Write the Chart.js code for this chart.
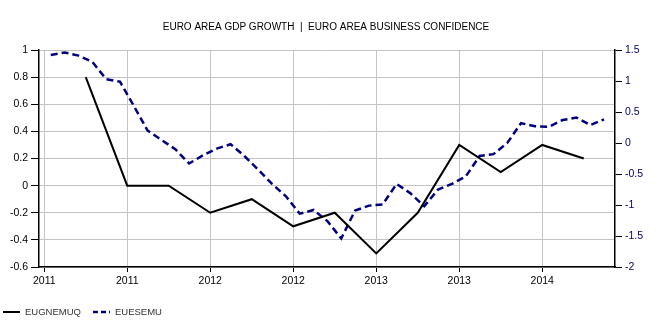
<!DOCTYPE html>
<html>
<head>
<meta charset="utf-8">
<script src="https://cdn.jsdelivr.net/npm/chart.js@4"></script>
<style>
  html, body { margin: 0; padding: 0; background: #ffffff; }
  #wrap { width: 656px; height: 329px; position: relative; }
</style>
</head>
<body>
<div id="wrap"><canvas id="c" width="656" height="329"></canvas></div>
<script>
// ---- data ----
const chartTitle = 'EURO AREA GDP GROWTH  |  EURO AREA BUSINESS CONFIDENCE';

const gdpName = 'EUGNEMUQ';
const gdpQuarters = ['Q1 2011','Q2 2011','Q3 2011','Q4 2011','Q1 2012','Q2 2012','Q3 2012',
                     'Q4 2012','Q1 2013','Q2 2013','Q3 2013','Q4 2013','Q1 2014'];
const gdpValues = [0.8, 0, 0, -0.2, -0.1, -0.3, -0.2, -0.5, -0.2, 0.3, 0.1, 0.3, 0.2];

const confName = 'EUESEMU';
const confMonths = ['Jan 2011','Feb 2011','Mar 2011','Apr 2011','May 2011','Jun 2011','Jul 2011','Aug 2011',
                    'Sep 2011','Oct 2011','Nov 2011','Dec 2011','Jan 2012','Feb 2012','Mar 2012','Apr 2012',
                    'May 2012','Jun 2012','Jul 2012','Aug 2012','Sep 2012','Oct 2012','Nov 2012','Dec 2012',
                    'Jan 2013','Feb 2013','Mar 2013','Apr 2013','May 2013','Jun 2013','Jul 2013','Aug 2013',
                    'Sep 2013','Oct 2013','Nov 2013','Dec 2013','Jan 2014','Feb 2014','Mar 2014','Apr 2014',
                    'May 2014'];
const confValues = [1.42, 1.46, 1.41, 1.31, 1.03, 0.99, 0.60, 0.20, 0.05, -0.10,
                    -0.33, -0.20, -0.09, -0.02, -0.21, -0.43, -0.66, -0.86, -1.14, -1.08,
                    -1.26, -1.54, -1.09, -1.01, -0.99, -0.66, -0.81, -1.02, -0.75, -0.66,
                    -0.54, -0.21, -0.18, 0.00, 0.32, 0.27, 0.26, 0.37, 0.41, 0.29,
                    0.38];

// x ticks: start of Jan / Jul of each year
const xTickDates = ['Jan 2011','Jul 2011','Jan 2012','Jul 2012','Jan 2013','Jul 2013','Jan 2014'];
const xTickLabels = ['2011','2011','2012','2012','2013','2013','2014'];
const leftTicks = [-0.6, -0.4, -0.2, 0, 0.2, 0.4, 0.6, 0.8, 1];
const rightTicks = [-2, -1.5, -1, -0.5, 0, 0.5, 1, 1.5];

// ---- time helpers (months since Jan 2011) ----
const MONTHS = ['Jan','Feb','Mar','Apr','May','Jun','Jul','Aug','Sep','Oct','Nov','Dec'];
function monthStart(s) { const [m, y] = s.split(' '); return (parseInt(y) - 2011) * 12 + MONTHS.indexOf(m); }
function midMonth(s) { return monthStart(s) + 0.47; }
function quarterEnd(s) { const [q, y] = s.split(' '); return (parseInt(y) - 2011) * 12 + parseInt(q.slice(1)) * 3; }

const gdpPoints = gdpQuarters.map((q, i) => ({ x: quarterEnd(q), y: gdpValues[i] }));
const confPoints = confMonths.map((m, i) => ({ x: midMonth(m), y: confValues[i] }));
const xTickPos = xTickDates.map(monthStart);

const FONT = 'Liberation Sans';
const gridCol = '#c4c4c4';

const overlay = {
  id: 'overlay',
  afterDraw(chart) {
    const ctx = chart.ctx;
    ctx.save();
    ctx.fillStyle = '#000';
    ctx.font = '10px "' + FONT + '"';
    ctx.textAlign = 'center';
    ctx.textBaseline = 'middle';
    ctx.fillText(chartTitle, 326, 27);

    // legend
    const items = chart.data.datasets;
    const starts = [3, 93];
    ctx.textAlign = 'left';
    ctx.font = '9.5px "' + FONT + '"';
    items.forEach((ds, i) => {
      const x0 = starts[i], y = 312;
      ctx.beginPath();
      ctx.strokeStyle = ds.borderColor;
      ctx.lineWidth = ds.borderWidth;
      ctx.setLineDash(ds.borderDash ? [5, 3] : []);
      ctx.moveTo(x0, y);
      ctx.lineTo(x0 + 17, y);
      ctx.stroke();
      ctx.setLineDash([]);
      ctx.fillStyle = '#333';
      ctx.fillText(ds.label, x0 + 22, y + 0.5);
    });
    ctx.restore();
  }
};

new Chart(document.getElementById('c'), {
  type: 'line',
  data: {
    datasets: [
      {
        label: gdpName, data: gdpPoints, yAxisID: 'yL',
        borderColor: '#000000', borderWidth: 2, pointRadius: 0, tension: 0, fill: false
      },
      {
        label: confName, data: confPoints, yAxisID: 'yR',
        borderColor: '#000080', borderWidth: 2.5, borderDash: [7, 4], pointRadius: 0, tension: 0, fill: false
      }
    ]
  },
  options: {
    responsive: false,
    animation: false,
    devicePixelRatio: 1,
    layout: { padding: { top: 50, bottom: 32, left: 0, right: 0 } },
    plugins: { legend: { display: false }, title: { display: false }, tooltip: { enabled: false } },
    scales: {
      x: {
        type: 'linear', min: -0.38, max: 41.26,
        afterBuildTicks: (ax) => { ax.ticks = xTickPos.map(v => ({ value: v })); },
        afterFit: (ax) => { ax.height = 30; },
        ticks: {
          autoSkip: false, maxRotation: 0, padding: 3, color: '#000',
          font: { family: FONT, size: 10.5 },
          callback: (v, i) => xTickLabels[i]
        },
        grid: {
          color: gridCol, borderDash: [1, 2], tickLength: 5,
          tickColor: '#000', tickBorderDash: [], tickWidth: 1
        },
        border: { display: true, color: '#000', width: 1.5 }
      },
      yL: {
        position: 'left', min: -0.6, max: 1,
        afterBuildTicks: (ax) => { ax.ticks = leftTicks.map(v => ({ value: v })); },
        afterFit: (ax) => { ax.width = 39; },
        ticks: {
          padding: 3, color: '#000', font: { family: FONT, size: 10.5 },
          callback: (v) => String(v)
        },
        grid: {
          color: gridCol, borderDash: [1, 2], tickLength: 8,
          tickColor: '#000', tickBorderDash: [], tickWidth: 1
        },
        border: { display: true, color: '#000', width: 1.5 }
      },
      yR: {
        position: 'right', min: -2, max: 1.5,
        afterBuildTicks: (ax) => { ax.ticks = rightTicks.map(v => ({ value: v })); },
        afterFit: (ax) => { ax.width = 41; },
        ticks: {
          padding: 3, color: '#000066', font: { family: FONT, size: 10.5 },
          callback: (v) => String(v)
        },
        grid: {
          drawOnChartArea: false, tickLength: 7,
          tickColor: '#000', tickWidth: 1
        },
        border: { display: true, color: '#000', width: 1.5 }
      }
    }
  },
  plugins: [overlay]
});
</script>
</body>
</html>
